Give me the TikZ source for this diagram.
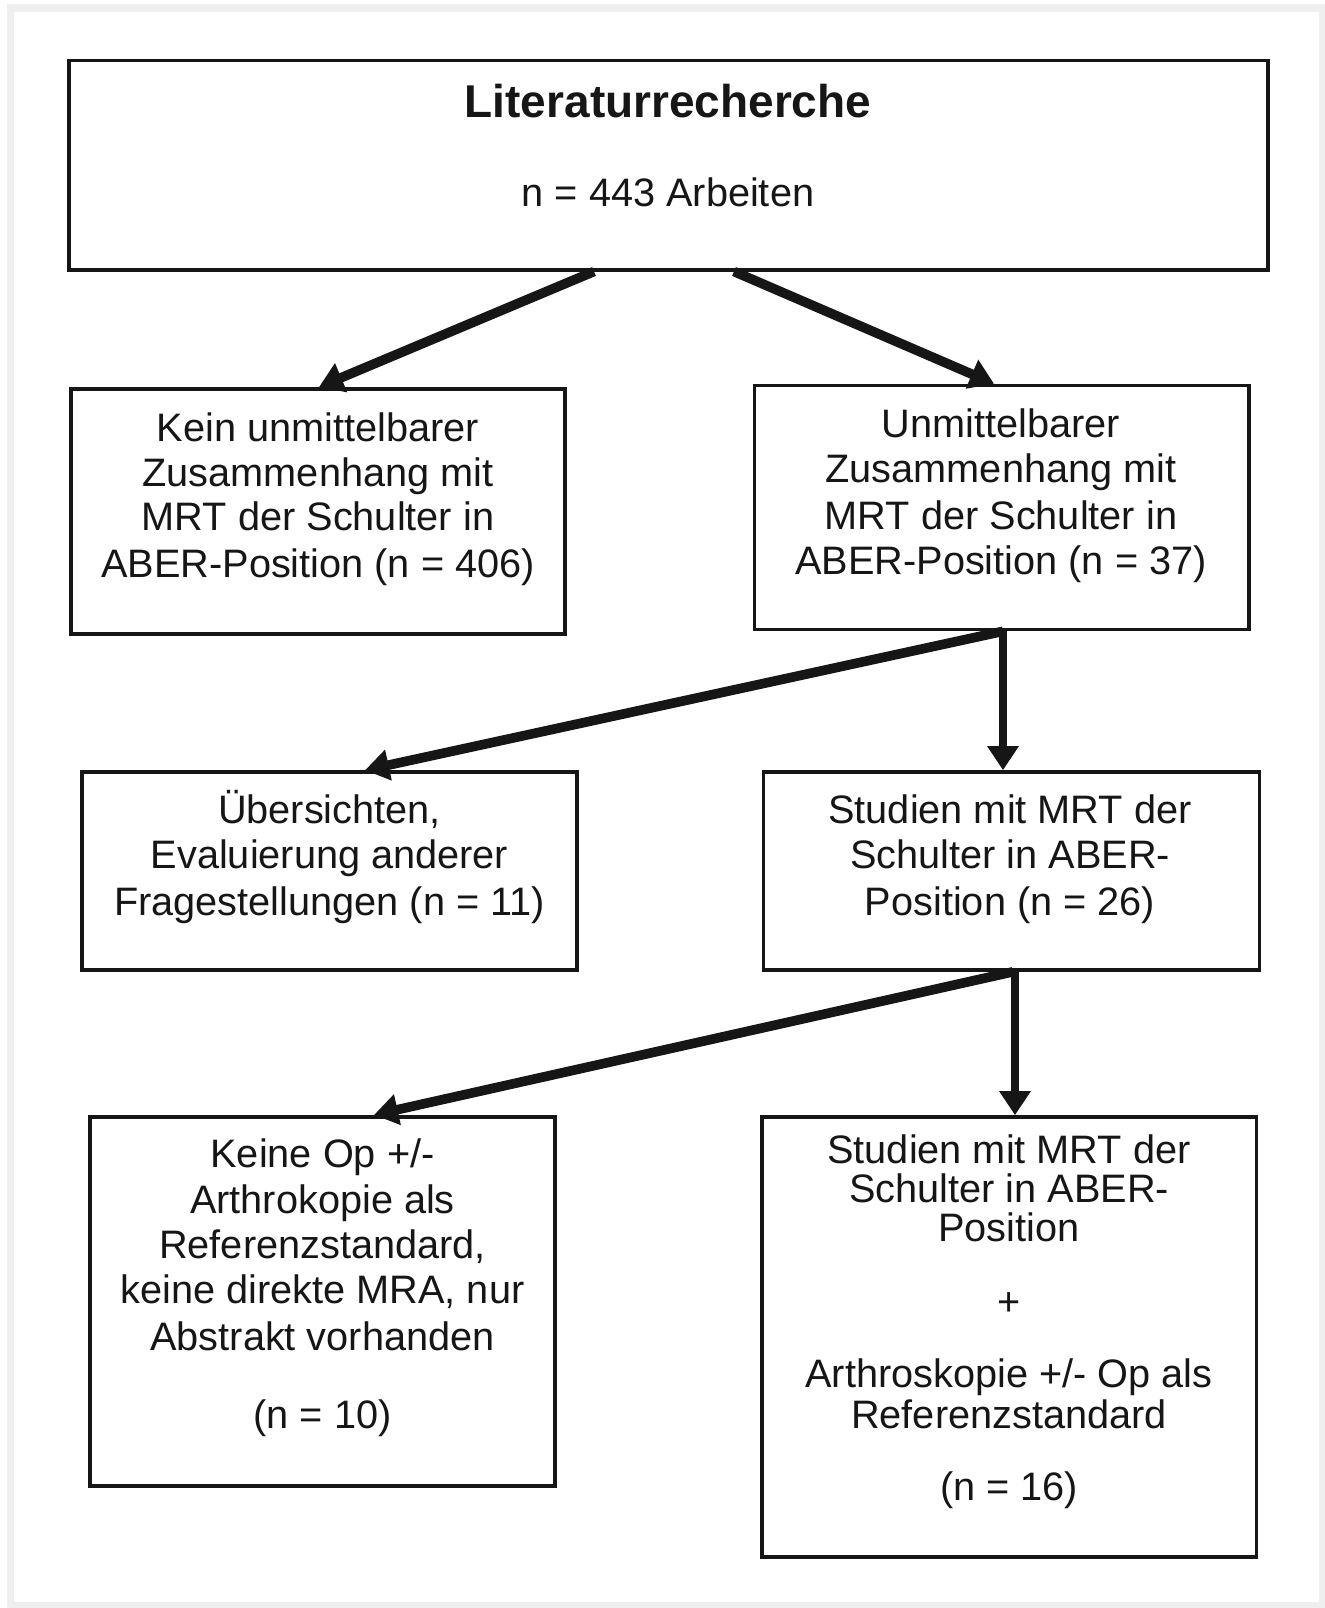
\documentclass[tikz,border=0pt]{standalone}
\usepackage{fontspec}
\setmainfont{Liberation Sans}
\usetikzlibrary{arrows.meta}
\definecolor{framegray}{RGB}{239,239,239}
\definecolor{ink}{RGB}{22,22,22}
\begin{document}
\begin{tikzpicture}[x=0.5pt,y=-0.5pt,
  box/.style={draw=ink, line width=1.8pt, inner sep=0pt},
  txt/.style={inner sep=0pt, anchor=base, text=ink, font=\fontsize{19.85}{22}\selectfont},
  ttl/.style={inner sep=0pt, anchor=base, text=ink, font=\bfseries\fontsize{23}{26}\selectfont},
  arr/.style={draw=ink, line width=4.8pt, -{Triangle[length=12pt,width=15pt]}},
  varr/.style={draw=ink, line width=4.2pt, -{Triangle[length=12pt,width=15pt]}}]
\useasboundingbox (0,0) rectangle (1325,1608);
\fill[white] (0,0) rectangle (1325,1608);
\fill[framegray] (7,4) rectangle (1325,1608);
\fill[white] (13.5,11.5) rectangle (1319,1602);

% boxes
\node[box, minimum width=599.5pt, minimum height=104.6pt] (top) at (668.2,165.1) {};
\node[box, minimum width=247.15pt, minimum height=122.5pt] (b2l) at (318,511.3) {};
\node[box, minimum width=247.2pt, minimum height=122pt] (b2r) at (1001.5,507.5) {};
\node[box, minimum width=247.5pt, minimum height=99pt] (b3l) at (329.5,871) {};
\node[box, minimum width=248pt, minimum height=99pt] (b3r) at (1011.5,871) {};
\node[box, minimum width=232.5pt, minimum height=184.5pt] (b4l) at (322.5,1301.2) {};
\node[box, minimum width=247.2pt, minimum height=220pt] (b4r) at (1009.2,1337) {};

% texts
\node[ttl] (t0a) at (668,117) {Literaturrecherche};
\node[txt] (t0b) at (668,206) {n = 443 Arbeiten};

\node[txt] (t1a) at (318,441) {Kein unmittelbarer};
\node[txt] (t1b) at (318,486) {Zusammenhang mit};
\node[txt] (t1c) at (318,530) {MRT der Schulter in};
\node[txt] (t1d) at (318,577) {ABER-Position (n = 406)};

\node[txt] (t2a) at (1001,437) {Unmittelbarer};
\node[txt] (t2b) at (1001,482) {Zusammenhang mit};
\node[txt] (t2c) at (1001,529) {MRT der Schulter in};
\node[txt] (t2d) at (1001,574) {ABER-Position (n = 37)};

\node[txt] (t3a) at (329.5,823) {Übersichten,};
\node[txt] (t3b) at (329.5,868) {Evaluierung anderer};
\node[txt] (t3c) at (329.5,915) {Fragestellungen (n = 11)};

\node[txt] (t4a) at (1010,823) {Studien mit MRT der};
\node[txt] (t4b) at (1010,868) {Schulter in ABER-};
\node[txt] (t4c) at (1010,915) {Position (n = 26)};

\node[txt] (t5a) at (322.5,1167) {Keine Op +/-};
\node[txt] (t5b) at (322.5,1213) {Arthrokopie als};
\node[txt] (t5c) at (322.5,1258) {Referenzstandard,};
\node[txt] (t5d) at (322.5,1303) {keine direkte MRA, nur};
\node[txt] (t5e) at (322.5,1350) {Abstrakt vorhanden};
\node[txt] (t5f) at (322.5,1428) {(n = 10)};

\node[txt] (t6a) at (1009,1163) {Studien mit MRT der};
\node[txt] (t6b) at (1009,1202) {Schulter in ABER-};
\node[txt] (t6c) at (1009,1241) {Position};
\node[txt] (t6d) at (1009,1315) {+};
\node[txt] (t6e) at (1009,1387) {Arthroskopie +/- Op als};
\node[txt] (t6f) at (1009,1428) {Referenzstandard};
\node[txt] (t6g) at (1009,1500) {(n = 16)};

% connectors
\draw[arr] (top.south -| 594,0) -- (b2l.north -| 319,0);
\draw[arr] (top.south -| 734,0) -- (b2r.north -| 994,0);
\draw[arr] (b2r.south -| 1003,0) -- (b3l.north -| 365,0);
\draw[varr] (b2r.south -| 1003,0) -- (b3r.north -| 1003,0);
\draw[arr] (b3r.south -| 1013,0) -- (b4l.north -| 374,0);
\draw[varr] (b3r.south -| 1015,0) -- (b4r.north -| 1015,0);
\end{tikzpicture}
\end{document}
